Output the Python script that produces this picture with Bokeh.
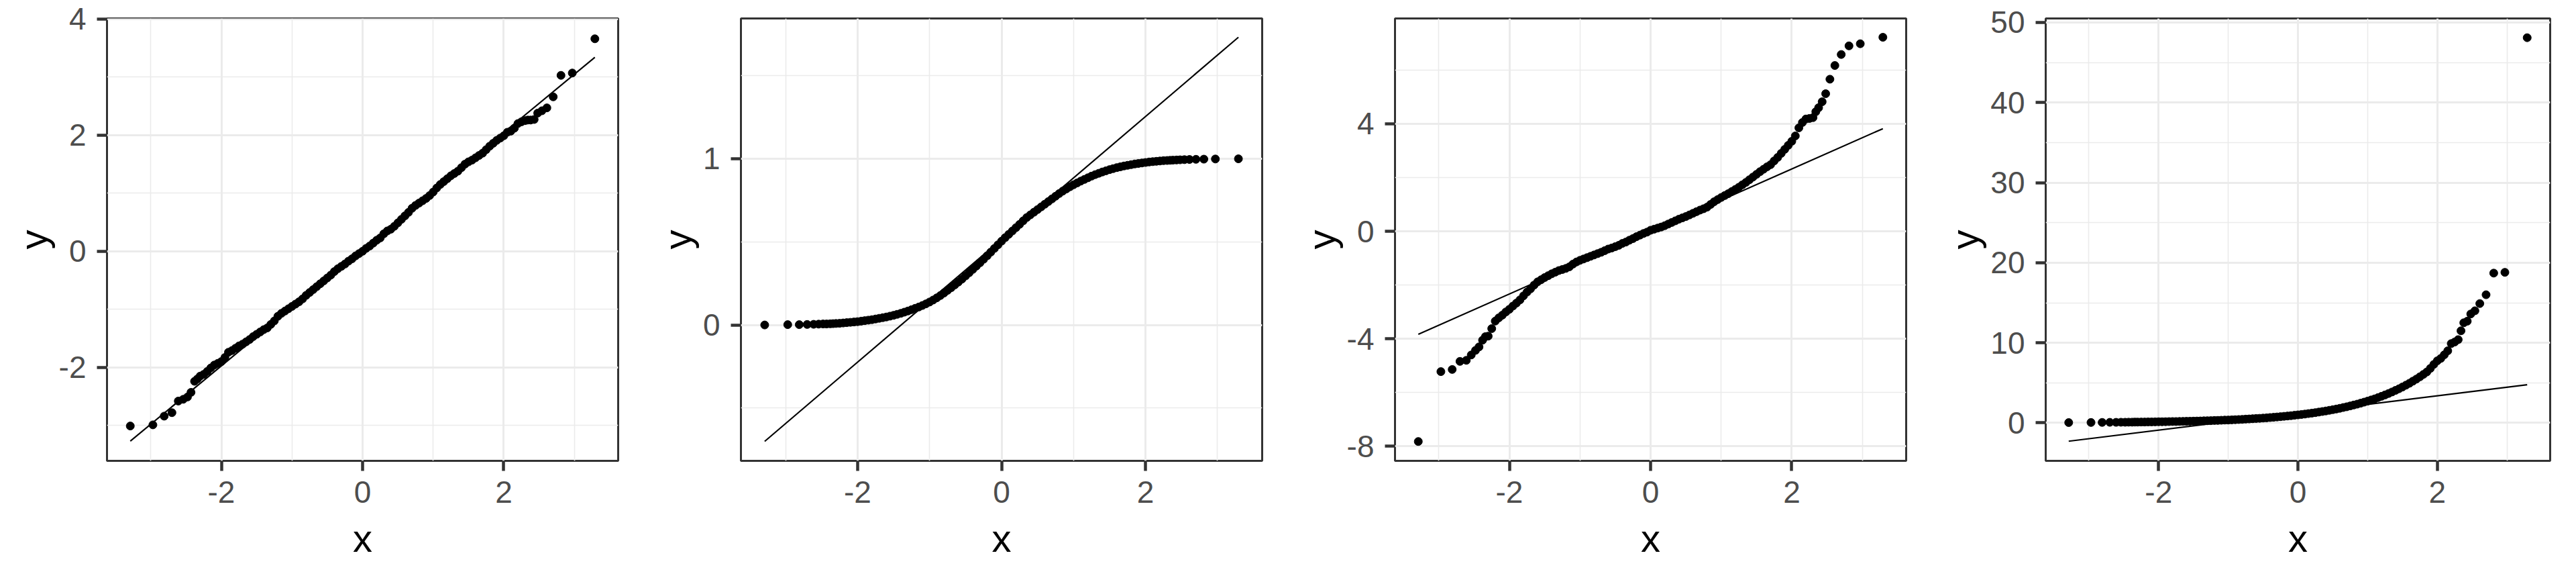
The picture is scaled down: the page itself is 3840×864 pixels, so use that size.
from bokeh.plotting import figure
from bokeh.models import Range1d, FixedTicker, CustomJSTickFormatter
from bokeh.layouts import row
from bokeh.embed import file_html
from bokeh.resources import INLINE

# theoretical quantiles (x): tails, dense middle, tails
QX_LOW = [-3.29, -2.97, -2.81, -2.70, -2.61, -2.54, -2.48, -2.43, -2.38, -2.34, -2.30]
QX_MID = [
    -2.25, -2.20, -2.15, -2.10, -2.05, -2.00, -1.95, -1.90, -1.85, -1.80,
    -1.75, -1.70, -1.65, -1.60, -1.55, -1.50, -1.45, -1.40, -1.35, -1.30,
    -1.25, -1.20, -1.15, -1.10, -1.05, -1.00, -0.95, -0.90, -0.85, -0.80,
    -0.75, -0.70, -0.65, -0.60, -0.55, -0.50, -0.45, -0.40, -0.35, -0.30,
    -0.25, -0.20, -0.15, -0.10, -0.05, 0.00, 0.05, 0.10, 0.15, 0.20,
    0.25, 0.30, 0.35, 0.40, 0.45, 0.50, 0.55, 0.60, 0.65, 0.70,
    0.75, 0.80, 0.85, 0.90, 0.95, 1.00, 1.05, 1.10, 1.15, 1.20,
    1.25, 1.30, 1.35, 1.40, 1.45, 1.50, 1.55, 1.60, 1.65, 1.70,
    1.75, 1.80, 1.85, 1.90, 1.95, 2.00, 2.05, 2.10, 2.15, 2.20,
    2.25]
QX_HIGH = [2.30, 2.34, 2.38, 2.43, 2.48, 2.54, 2.61, 2.70, 2.81, 2.97, 3.29]
QX = QX_LOW + QX_MID + QX_HIGH

# panel 1: normal sample
Y1 = [-3.01, -2.99, -2.84, -2.78, -2.58, -2.55, -2.51, -2.43, -2.24, -2.20, -2.15] + [
    -2.12, -2.07, -2.01, -1.96, -1.93, -1.90, -1.83, -1.74, -1.71, -1.67,
    -1.63, -1.60, -1.56, -1.52, -1.47, -1.43, -1.39, -1.35, -1.32, -1.26,
    -1.20, -1.12, -1.07, -1.03, -0.99, -0.95, -0.91, -0.87, -0.82, -0.76,
    -0.71, -0.66, -0.61, -0.56, -0.51, -0.46, -0.41, -0.35, -0.30, -0.26,
    -0.22, -0.17, -0.13, -0.08, -0.04, 0.00, 0.05, 0.09, 0.14, 0.19,
    0.23, 0.30, 0.35, 0.38, 0.43, 0.49, 0.55, 0.61, 0.67, 0.74,
    0.79, 0.83, 0.87, 0.91, 0.96, 1.02, 1.09, 1.15, 1.20, 1.25,
    1.30, 1.34, 1.38, 1.44, 1.50, 1.54, 1.57, 1.61, 1.65, 1.69,
    1.75, 1.81, 1.86, 1.91, 1.95, 1.99, 2.05, 2.07, 2.12, 2.20,
    2.23] + [2.25, 2.26, 2.26, 2.27, 2.38, 2.42, 2.47, 2.66, 3.03, 3.07, 3.66]

# panel 2: bounded (0..1) sample
Y2 = [0.000, 0.002, 0.002, 0.003, 0.004, 0.005, 0.006, 0.006, 0.007, 0.008, 0.009] + [
    0.010, 0.012, 0.014, 0.016, 0.018, 0.020, 0.023, 0.026, 0.029, 0.032,
    0.036, 0.040, 0.044, 0.048, 0.053, 0.058, 0.064, 0.070, 0.077, 0.084,
    0.092, 0.100, 0.108, 0.117, 0.127, 0.138, 0.150, 0.163, 0.177, 0.192,
    0.208, 0.224, 0.241, 0.258, 0.276, 0.295, 0.314, 0.334, 0.354, 0.374,
    0.395, 0.416, 0.438, 0.460, 0.482, 0.504, 0.525, 0.545, 0.565, 0.585,
    0.605, 0.626, 0.646, 0.662, 0.678, 0.694, 0.710, 0.726, 0.742, 0.758,
    0.774, 0.790, 0.805, 0.818, 0.831, 0.843, 0.854, 0.865, 0.875, 0.885,
    0.895, 0.904, 0.912, 0.920, 0.927, 0.934, 0.940, 0.946, 0.951, 0.956,
    0.960, 0.964, 0.968, 0.971, 0.974, 0.977, 0.980, 0.982, 0.984, 0.986,
    0.988] + [0.989, 0.990, 0.991, 0.992, 0.993, 0.994, 0.995, 0.996, 0.997, 0.998, 0.999]

# panel 3: heavy-tailed sample
Y3 = [-7.82, -5.22, -5.14, -4.84, -4.80, -4.60, -4.43, -4.30, -4.05, -3.92, -3.90] + [
    -3.62, -3.34, -3.22, -3.12, -3.00, -2.90, -2.78, -2.67, -2.55, -2.40,
    -2.26, -2.14, -2.00, -1.88, -1.80, -1.72, -1.65, -1.58, -1.52, -1.46,
    -1.42, -1.38, -1.32, -1.22, -1.14, -1.08, -1.03, -0.98, -0.93, -0.88,
    -0.83, -0.78, -0.72, -0.66, -0.62, -0.57, -0.52, -0.45, -0.40, -0.33,
    -0.27, -0.20, -0.14, -0.08, -0.03, 0.04, 0.08, 0.12, 0.16, 0.21,
    0.27, 0.33, 0.39, 0.45, 0.50, 0.55, 0.61, 0.67, 0.73, 0.79,
    0.84, 0.90, 1.00, 1.10, 1.18, 1.26, 1.33, 1.40, 1.48, 1.56,
    1.64, 1.73, 1.82, 1.92, 2.02, 2.12, 2.22, 2.31, 2.40, 2.48,
    2.62, 2.75, 2.90, 3.05, 3.20, 3.35, 3.55, 3.85, 4.05, 4.18,
    4.20] + [4.23, 4.45, 4.60, 4.82, 5.12, 5.66, 6.17, 6.58, 6.90, 6.98, 7.22]

# panel 4: right-skewed sample
Y4 = [0.04, 0.05, 0.06, 0.07, 0.07, 0.08, 0.08, 0.09, 0.09, 0.10, 0.10] + [
    0.11, 0.11, 0.12, 0.12, 0.13, 0.14, 0.14, 0.15, 0.16, 0.17,
    0.17, 0.18, 0.19, 0.20, 0.21, 0.22, 0.23, 0.24, 0.26, 0.27,
    0.28, 0.30, 0.31, 0.33, 0.35, 0.36, 0.38, 0.40, 0.42, 0.44,
    0.47, 0.49, 0.52, 0.55, 0.57, 0.60, 0.63, 0.67, 0.70, 0.74,
    0.78, 0.82, 0.86, 0.90, 0.95, 1.00, 1.05, 1.10, 1.16, 1.22,
    1.28, 1.35, 1.42, 1.49, 1.57, 1.65, 1.73, 1.82, 1.92, 2.01,
    2.12, 2.23, 2.34, 2.46, 2.59, 2.72, 2.86, 3.00, 3.16, 3.32,
    3.49, 3.67, 3.86, 4.06, 4.26, 4.48, 4.71, 4.95, 5.21, 5.47,
    5.75, 6.05, 6.36, 6.80, 7.30, 7.75, 8.05, 8.50, 9.00, 9.90,
    10.1] + [10.4, 11.5, 12.5, 12.7, 13.6, 14.0, 14.9, 16.0, 18.7, 18.8, 48.1]

# reference (qq) lines: endpoints
LINE_X = [-3.29, 3.29]
LINE_Y = [[-3.27, 3.34], [-0.70, 1.73], [-3.83, 3.82], [-2.29, 4.77]]

X_TICKS = [-2, 0, 2]
X_MINOR = [-3, -1, 1, 3]
Y_TICKS = [[-2, 0, 2, 4], [0, 1], [-8, -4, 0, 4], [0, 10, 20, 30, 40, 50]]
Y_MINOR = [[-3, -1, 1, 3], [-0.5, 0.5, 1.5], [-6, -2, 2, 6], [5, 15, 25, 35, 45]]
Y_RANGES = [(-3.61, 4.01), (-0.817, 1.843), (-8.54, 7.92), (-4.74, 50.5)]
X_RANGE = (-3.62, 3.62)

YS = [Y1, Y2, Y3, Y4]
WIDTHS = [952, 960, 960, 952]
BORDER_L = [159, 152, 167, 177]
BORDER_R = [31, 31, 31, 23]

FONT = "Liberation Sans"
plain = CustomJSTickFormatter(code="return tick.toString();")

figs = []
for i in range(4):
    p = figure(width=WIDTHS[i], height=848,
               x_range=Range1d(*X_RANGE), y_range=Range1d(*Y_RANGES[i]),
               output_backend="svg", toolbar_location=None,
               min_border_left=BORDER_L[i], min_border_right=BORDER_R[i],
               min_border_top=27, min_border_bottom=162)
    p.background_fill_color = "white"
    p.border_fill_color = "white"
    p.outline_line_color = "#333333"
    p.outline_line_width = 3

    p.xaxis.ticker = FixedTicker(ticks=X_TICKS, minor_ticks=X_MINOR)
    p.yaxis.ticker = FixedTicker(ticks=Y_TICKS[i], minor_ticks=Y_MINOR[i])
    p.xaxis.formatter = plain
    p.yaxis.formatter = plain

    for g in (p.xgrid, p.ygrid):
        g.grid_line_color = "#EBEBEB"
        g.grid_line_width = 3
        g.minor_grid_line_color = "#EBEBEB"
        g.minor_grid_line_width = 1.6

    for ax in (p.xaxis, p.yaxis):
        ax.axis_line_color = None
        ax.major_tick_line_color = "#333333"
        ax.major_tick_line_width = 4.5
        ax.major_tick_out = 15
        ax.major_tick_in = 0
        ax.minor_tick_line_color = None
        ax.major_label_text_font = FONT
        ax.major_label_text_font_size = "46px"
        ax.major_label_text_color = "#4D4D4D"
        ax.axis_label_text_font = FONT
        ax.axis_label_text_font_size = "58px"
        ax.axis_label_text_font_style = "normal"
        ax.axis_label_text_color = "black"
    p.xaxis.axis_label = "x"
    p.yaxis.axis_label = "y"
    p.xaxis.major_label_standoff = 15
    p.xaxis.axis_label_standoff = 17
    p.yaxis.major_label_standoff = 16
    p.yaxis.axis_label_standoff = 3

    p.scatter(QX, YS[i], size=12, color="black", line_color="black")
    p.line(LINE_X, LINE_Y[i], line_width=2.2, color="black")
    figs.append(p)

layout = row(*figs, spacing=0)
open("out.html", "w").write(file_html(layout, INLINE))
